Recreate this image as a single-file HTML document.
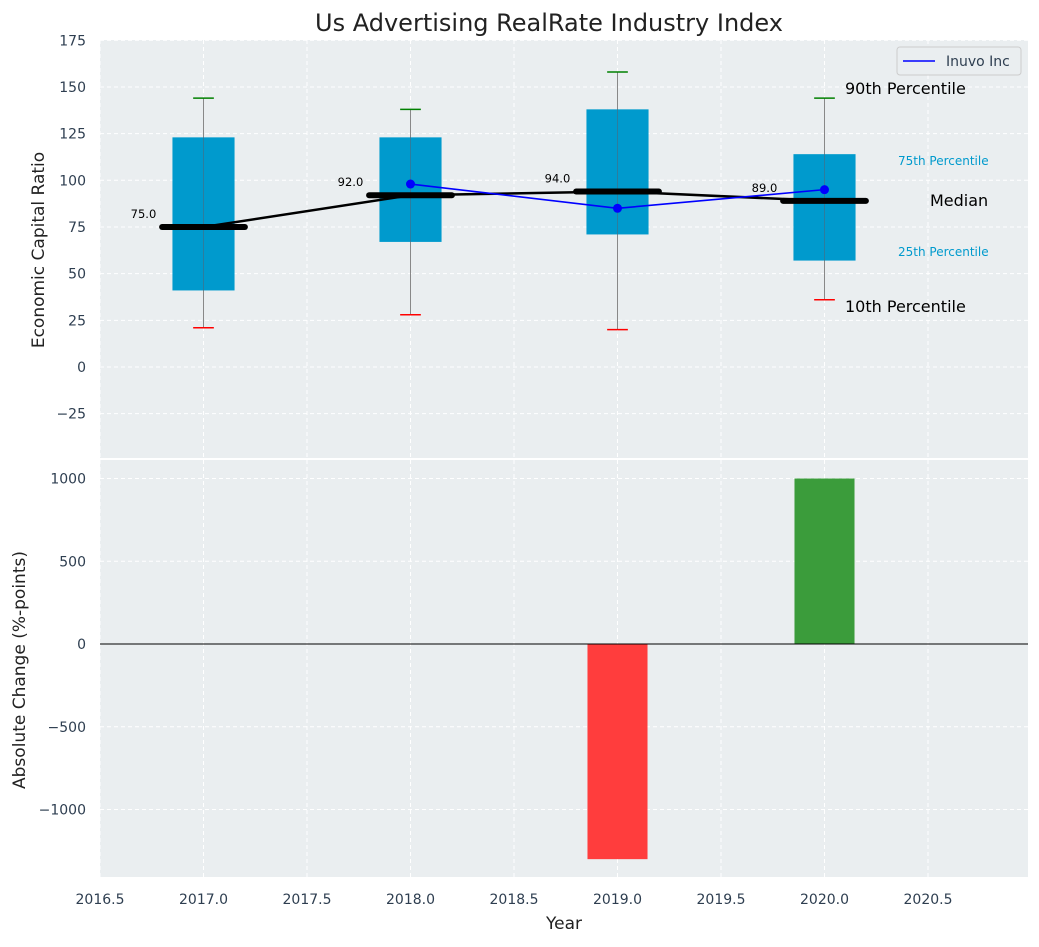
<!DOCTYPE html>
<html><head><meta charset="utf-8"><style>
body{margin:0;background:#fff;font-family:"Liberation Sans","DejaVu Sans",sans-serif}
</style></head><body>
<svg id="c" width="1039" height="942" xmlns="http://www.w3.org/2000/svg" font-family="DejaVu Sans, Liberation Sans, sans-serif"></svg>
<script>
const years=[2017,2018,2019,2020];
const p10=[21,28,20,36];
const p25=[41,67,71,57];
const med=[75,92,94,89];
const p75=[123,123,138,114];
const p90=[144,138,158,144];
const compYears=[2018,2019,2020];
const compVals=[98,85,95];
const changeYears=[2019,2020];
const changeVals=[-1300,1000];
const topTicks=[-25,0,25,50,75,100,125,150,175];
const botTicks=[-1000,-500,0,500,1000];
const xTicks=[2016.5,2017,2017.5,2018,2018.5,2019,2019.5,2020,2020.5];

const NS="http://www.w3.org/2000/svg",svg=document.getElementById('c');
function el(t,a,p){const e=document.createElementNS(NS,t);for(const k in a)e.setAttribute(k,a[k]);(p||svg).appendChild(e);return e;}
const L=100,R=1028;
const X=v=>L+(v-2016.5)*207;
const Y1=v=>367-v*1.867;
const Y2=v=>644-v*0.1655;

// backgrounds
let b=el('rect',{x:L,y:40,width:R-L,height:418,fill:'#eaeef0'});

b=el('rect',{x:L,y:460,width:R-L,height:417,fill:'#eaeef0'});


// grids & ticks
xTicks.forEach(t=>{
  [[40,458],[460,877]].forEach(r=>{const g=el('line',{x1:X(t),x2:X(t),y1:r[0],y2:r[1],stroke:'#fff','stroke-dasharray':'4,3','stroke-width':1});
  });
  const tx=el('text',{x:X(t),y:904,'text-anchor':'middle','font-size':14,fill:'#2e3e50'});tx.textContent=t.toFixed(1);
  
});
topTicks.forEach(t=>{
  const g=el('line',{x1:L,x2:R,y1:Y1(t),y2:Y1(t),stroke:'#fff','stroke-dasharray':'4,3'});
  
  const tx=el('text',{x:86,y:Y1(t)+5,'text-anchor':'end','font-size':14,fill:'#2e3e50'});tx.textContent=t<0?'\u2212'+(-t):t;
  
});
botTicks.forEach(t=>{
  const g=el('line',{x1:L,x2:R,y1:Y2(t),y2:Y2(t),stroke:'#fff','stroke-dasharray':'4,3'});
  
  const tx=el('text',{x:86,y:Y2(t)+5,'text-anchor':'end','font-size':14,fill:'#2e3e50'});tx.textContent=t<0?'\u2212'+(-t):t;
  
});

// boxes
years.forEach((y,i)=>{
  const w=el('line',{x1:X(y),x2:X(y),y1:Y1(p90[i]),y2:Y1(p10[i]),stroke:'#888','stroke-width':1});
  
  const r=el('rect',{x:X(y-0.15),y:Y1(p75[i]),width:X(y+0.15)-X(y-0.15),height:Y1(p25[i])-Y1(p75[i]),fill:'#009acd'});
  
  const w2=el('line',{x1:X(y),x2:X(y),y1:Y1(p75[i]),y2:Y1(p25[i]),stroke:'#4a6a80','stroke-width':1,opacity:0.6});
  
  const c1=el('line',{x1:X(y-0.05),x2:X(y+0.05),y1:Y1(p90[i]),y2:Y1(p90[i]),stroke:'green','stroke-width':1.5});
  
  const c2=el('line',{x1:X(y-0.05),x2:X(y+0.05),y1:Y1(p10[i]),y2:Y1(p10[i]),stroke:'red','stroke-width':1.5});
  
});
// median connecting line
let pts=years.map((y,i)=>X(y)+','+Y1(med[i])).join(' ');
let pl=el('polyline',{points:pts,fill:'none',stroke:'#000','stroke-width':2.5});

// company line
pts=compYears.map((y,i)=>X(y)+','+Y1(compVals[i])).join(' ');
pl=el('polyline',{points:pts,fill:'none',stroke:'#0000ff','stroke-width':1.6});

compYears.forEach((y,i)=>{const c=el('circle',{cx:X(y),cy:Y1(compVals[i]),r:4.5,fill:'#0000ff'});
});
years.forEach((y,i)=>{
  const m=el('line',{x1:X(y-0.2),x2:X(y+0.2),y1:Y1(med[i]),y2:Y1(med[i]),stroke:'#000','stroke-width':6,'stroke-linecap':'round'});
  
  const t=el('text',{x:X(y-0.29),y:Y1(med[i])-9,'text-anchor':'middle','font-size':11.5,fill:'#000'});t.textContent=med[i].toFixed(1);
  
});
// annotations
const ann=[[845,94,'90th Percentile',16,'#000'],[898,165,'75th Percentile',12,'#009acd'],[930,206,'Median',16,'#000'],[898,256,'25th Percentile',12,'#009acd'],[845,312,'10th Percentile',16,'#000']];
ann.forEach(a=>{const t=el('text',{x:a[0],y:a[1],'font-size':a[3],fill:a[4]});t.textContent=a[2];
});
// legend
const lg=el('g',{});
el('rect',{x:897,y:47,width:124,height:28,rx:3,fill:'#eaeef0',stroke:'#ccc'},lg);
el('line',{x1:903,x2:935,y1:61,y2:61,stroke:'#0000ff','stroke-width':1.6},lg);
let lt=el('text',{x:946,y:66,'font-size':14,fill:'#2e3e50'},lg);lt.textContent='Inuvo Inc';


// bottom bars
changeYears.forEach((y,i)=>{const v=changeVals[i];
  const r=el('rect',{x:X(y-0.145),y:Math.min(Y2(0),Y2(v)),width:X(y+0.145)-X(y-0.145),height:Math.abs(Y2(v)-Y2(0)),fill:v<0?'#ff3d3d':'#3b9c3b'});
  });
let z=el('line',{x1:L,x2:R,y1:Y2(0),y2:Y2(0),stroke:'#000','stroke-width':1});


// titles
let t=el('text',{x:549,y:31,'text-anchor':'middle','font-size':24,fill:'#222'});t.textContent='Us Advertising RealRate Industry Index';

t=el('text',{x:564,y:929,'text-anchor':'middle','font-size':17,fill:'#222'});t.textContent='Year';

t=el('text',{x:0,y:0,'text-anchor':'middle','font-size':17,fill:'#222',transform:'translate(44,250) rotate(-90)'});t.textContent='Economic Capital Ratio';

t=el('text',{x:0,y:0,'text-anchor':'middle','font-size':17,fill:'#222',transform:'translate(25,670) rotate(-90)'});t.textContent='Absolute Change (%-points)';

</script>
</body></html>
